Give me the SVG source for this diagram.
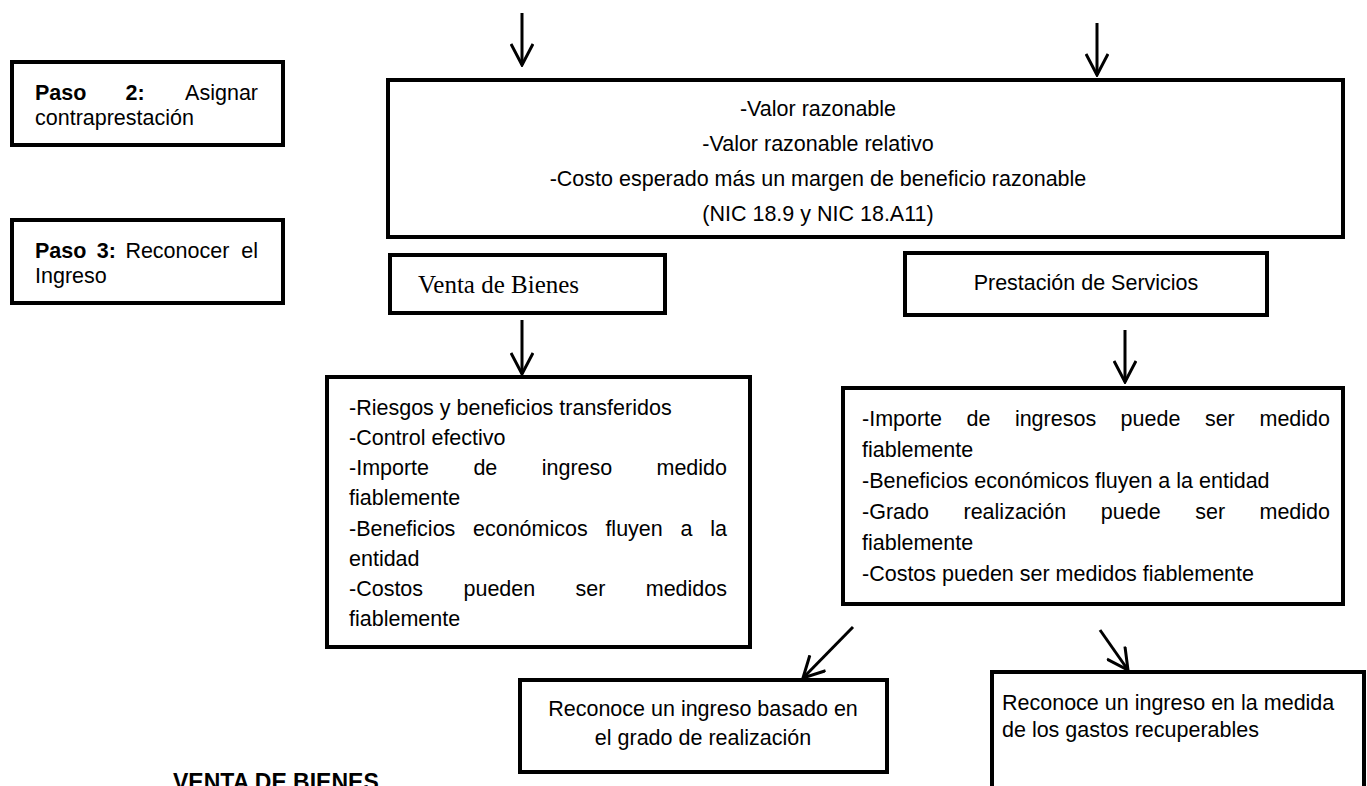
<svg xmlns="http://www.w3.org/2000/svg" width="1367" height="786" viewBox="0 0 1367 786">
<style>
.box{fill:#fff;stroke:#000;stroke-width:4}
.t{font-family:"Liberation Sans",Arial,sans-serif;font-size:21.5px;fill:#000}
.b{font-weight:bold}
.c{text-anchor:middle}
.e{text-anchor:end}
.serif{font-family:"Liberation Serif","Times New Roman",serif;font-size:25px;fill:#000}
.ln{fill:none;stroke:#000;stroke-width:3}
</style>
<defs>
<marker id="ah" viewBox="0 0 24 24" refX="22" refY="12" markerWidth="24" markerHeight="24" markerUnits="userSpaceOnUse" orient="auto">
<path d="M1,1 L22,12 L1,23" fill="none" stroke="#000" stroke-width="3"/>
</marker>
</defs>
<rect width="1367" height="786" fill="#fff"/>
<g id="connectors">
<line class="ln" x1="522" y1="13" x2="522" y2="65" marker-end="url(#ah)"/>
<line class="ln" x1="1097" y1="23" x2="1097" y2="75" marker-end="url(#ah)"/>
<line class="ln" x1="522" y1="320" x2="522" y2="374" marker-end="url(#ah)"/>
<line class="ln" x1="1125" y1="330" x2="1125" y2="382" marker-end="url(#ah)"/>
<line class="ln" x1="853" y1="627" x2="803" y2="678" marker-end="url(#ah)"/>
<line class="ln" x1="1100" y1="630" x2="1128" y2="670" marker-end="url(#ah)"/>
</g>
<g id="paso2">
<rect class="box" x="12" y="62" width="271" height="83"/>
<text class="t" y="100"><tspan class="b" x="35">Paso</tspan><tspan class="b" x="125.6">2:</tspan></text>
<text class="t e" x="258" y="100">Asignar</text>
<text class="t" x="35" y="125">contraprestación</text>
</g>
<g id="paso3">
<rect class="box" x="12" y="220" width="271" height="83"/>
<text class="t" y="258"><tspan class="b" x="35">Paso</tspan><tspan class="b" x="96.7">3:</tspan><tspan x="125.4">Reconocer</tspan></text>
<text class="t e" x="258" y="258">el</text>
<text class="t" x="35" y="283">Ingreso</text>
</g>
<g id="metodos">
<rect class="box" x="388" y="80" width="955" height="157"/>
<text class="t c" x="818" y="116">-Valor razonable</text>
<text class="t c" x="818" y="151">-Valor razonable relativo</text>
<text class="t c" x="818" y="186">-Costo esperado más un margen de beneficio razonable</text>
<text class="t c" x="818" y="221">(NIC 18.9 y NIC 18.A11)</text>
</g>
<g id="venta">
<rect class="box" x="390" y="255" width="275" height="58"/>
<text class="serif" x="418" y="293">Venta de Bienes</text>
</g>
<g id="servicios">
<rect class="box" x="905" y="253" width="362" height="62"/>
<text class="t c" x="1086" y="290">Prestación de Servicios</text>
</g>
<g id="criterios-bienes">
<rect class="box" x="327" y="377" width="423" height="270"/>
<text class="t" x="349" y="415">-Riesgos y beneficios transferidos</text>
<text class="t" x="349" y="445">-Control efectivo</text>
<text class="t" y="475"><tspan x="349">-Importe</tspan><tspan x="473.4">de</tspan><tspan x="541.7">ingreso</tspan></text>
<text class="t e" x="727" y="475">medido</text>
<text class="t" x="349" y="505">fiablemente</text>
<text class="t" y="536"><tspan x="349">-Beneficios</tspan><tspan x="473">económicos</tspan><tspan x="605.4">fluyen</tspan><tspan x="680.5">a</tspan></text>
<text class="t e" x="727" y="536">la</text>
<text class="t" x="349" y="566">entidad</text>
<text class="t" y="596"><tspan x="349">-Costos</tspan><tspan x="463.5">pueden</tspan><tspan x="575.6">ser</tspan></text>
<text class="t e" x="727" y="596">medidos</text>
<text class="t" x="349" y="626">fiablemente</text>
</g>
<g id="criterios-servicios">
<rect class="box" x="843" y="388" width="500" height="216"/>
<text class="t" y="426"><tspan x="862">-Importe</tspan><tspan x="966.5">de</tspan><tspan x="1014.9">ingresos</tspan><tspan x="1120.6">puede</tspan><tspan x="1204.9">ser</tspan></text>
<text class="t e" x="1330" y="426">medido</text>
<text class="t" x="862" y="457">fiablemente</text>
<text class="t" x="862" y="488">-Beneficios económicos fluyen a la entidad</text>
<text class="t" y="519"><tspan x="862">-Grado</tspan><tspan x="963.5">realización</tspan><tspan x="1100.8">puede</tspan><tspan x="1195.2">ser</tspan></text>
<text class="t e" x="1330" y="519">medido</text>
<text class="t" x="862" y="550">fiablemente</text>
<text class="t" x="862" y="581">-Costos pueden ser medidos fiablemente</text>
</g>
<g id="grado">
<rect class="box" x="520" y="680" width="367" height="92"/>
<text class="t c" x="703" y="716">Reconoce un ingreso basado en</text>
<text class="t c" x="703" y="745">el grado de realización</text>
</g>
<g id="gastos">
<rect class="box" x="992" y="672" width="372" height="140"/>
<text class="t" x="1002" y="710">Reconoce un ingreso en la medida</text>
<text class="t" x="1002" y="737">de los gastos recuperables</text>
</g>
<g id="titulo">
<text class="t b" x="173" y="790" style="font-size:23px">VENTA DE BIENES</text>
</g>
</svg>
